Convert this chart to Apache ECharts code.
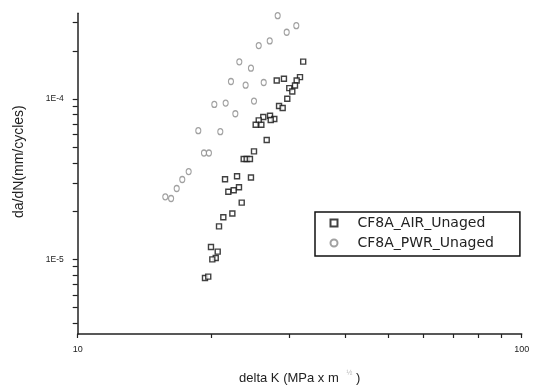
<!DOCTYPE html>
<html>
<head>
<meta charset="utf-8">
<script src="https://cdn.jsdelivr.net/npm/echarts@6/dist/echarts.min.js"></script>
<style>
html,body{margin:0;padding:0;background:#fff;}
#chart{width:534px;height:392px;}
</style>
</head>
<body>
<div id="chart"></div>
<script>
// delta K (MPa x m^1/2), da/dN (mm/cycle)
const airK = [32.2,28.07,29.14,31.67,31.13,30.86,29.96,30.43,29.65,28.41,28.95,26.18,27.11,25.57,27.72,27.21,25.17,25.92,26.65,24.95,23.65,24.02,24.43,21.47,22.85,24.56,21.84,22.46,23.08,23.41,21.28,22.30,20.81,19.96,20.67,20.46,20.10,19.35,19.68];
const airRate = [1.714e-4,1.305e-4,1.338e-4,1.370e-4,1.305e-4,1.215e-4,1.171e-4,1.115e-4,1.004e-4,0.905e-4,0.879e-4,0.773e-4,0.787e-4,0.736e-4,0.751e-4,0.740e-4,0.692e-4,0.692e-4,0.556e-4,0.472e-4,0.423e-4,0.423e-4,0.423e-4,0.316e-4,0.330e-4,0.324e-4,0.264e-4,0.270e-4,0.282e-4,0.226e-4,0.183e-4,0.193e-4,0.1605e-4,0.1193e-4,0.1117e-4,0.1019e-4,0.100e-4,0.765e-5,0.780e-5];
const pwrK = [28.21,31.07,29.56,27.07,25.57,23.12,24.56,22.14,23.89,26.24,24.95,20.31,21.54,22.65,18.69,20.95,19.25,19.75,17.78,17.20,16.71,15.75,16.23];
const pwrRate = [3.313e-4,2.871e-4,2.612e-4,2.306e-4,2.156e-4,1.707e-4,1.559e-4,1.287e-4,1.222e-4,1.269e-4,0.972e-4,0.926e-4,0.944e-4,0.810e-4,0.635e-4,0.626e-4,0.461e-4,0.461e-4,0.353e-4,0.315e-4,0.2766e-4,0.2455e-4,0.2397e-4];
const seriesNames = ['CF8A_AIR_Unaged','CF8A_PWR_Unaged'];
const xTicks = [10,20,30,40,50,60,70,80,90,100];
const xLabels = [10,100];
const yTicks = [4e-6,5e-6,6e-6,7e-6,8e-6,9e-6,1e-5,2e-5,3e-5,4e-5,5e-5,6e-5,7e-5,8e-5,9e-5,1e-4,2e-4,3e-4];
const yLabels = [1e-5,1e-4];
const xName = 'delta K (MPa x m';
const yName = 'da/dN(mm/cycles)';

const zip = (a,b) => a.map((v,i)=>[v,b[i]]);
const chart = echarts.init(document.getElementById('chart'), null, {renderer:'canvas'});
const fontFam = 'Liberation Sans, Arial, sans-serif';
chart.setOption({
  animation:false,
  backgroundColor:'#fff',
  grid:{left:77.7,right:12.3,top:13.3,bottom:58,containLabel:false},
  xAxis:{
    type:'log', min:10, max:100, logBase:10,
    axisLine:{show:true,lineStyle:{color:'#222',width:1.5}},
    axisTick:{show:true,inside:false,length:4,lineStyle:{color:'#222',width:1.2},customValues:xTicks},
    axisLabel:{show:true,margin:11,fontSize:9,color:'#222',fontFamily:fontFam,customValues:xLabels,
      formatter:v=>String(Math.round(v))},
    minorTick:{show:false}, splitLine:{show:false},
    name:xName+'{s|    ½}{p| )}', nameLocation:'middle', nameGap:36,
    nameTextStyle:{fontSize:13,color:'#222',fontFamily:fontFam,
      rich:{s:{fontSize:7,color:'#bbb',verticalAlign:'top',padding:[0,0,9,0]},
            p:{fontSize:13,color:'#222',fontFamily:fontFam}}}
  },
  yAxis:{
    type:'log', min:3.42e-6, max:3.43e-4, logBase:10,
    axisLine:{show:true,lineStyle:{color:'#222',width:1.5}},
    axisTick:{show:true,inside:false,length:5,lineStyle:{color:'#222',width:1.2},customValues:yTicks},
    axisLabel:{show:true,margin:14,fontSize:8.5,color:'#222',fontFamily:fontFam,customValues:yLabels,
      formatter:v=>'1E-'+Math.round(-Math.log10(v))},
    minorTick:{show:false}, splitLine:{show:false},
    name:yName, nameLocation:'middle', nameGap:52, nameRotate:90,
    nameTextStyle:{fontSize:14,color:'#222',fontFamily:fontFam,padding:[0,0,0,24]}
  },
  legend:{
    show:true, orient:'vertical', left:315, top:212,
    padding:[4,26,6,14.5], itemGap:6, itemWidth:7, itemHeight:7,
    borderColor:'#111', borderWidth:1.5, backgroundColor:'#fff',
    textStyle:{fontSize:14,color:'#222',fontFamily:'DejaVu Sans, sans-serif',lineHeight:14,padding:[0,0,0,15]},
    data:[{name:seriesNames[0],icon:'rect'},{name:seriesNames[1],icon:'circle'}]
  },
  series:[
    {name:seriesNames[0],type:'scatter',symbol:'rect',symbolSize:5,
     itemStyle:{color:'#fff',borderColor:'#111',borderWidth:1.4},
     data:zip(airK,airRate)},
    {name:seriesNames[1],type:'scatter',symbol:'circle',symbolSize:[5,6],
     itemStyle:{color:'#fff',borderColor:'#8a8a8a',borderWidth:1.2},
     data:zip(pwrK,pwrRate)}
  ]
});
</script>
</body>
</html>
